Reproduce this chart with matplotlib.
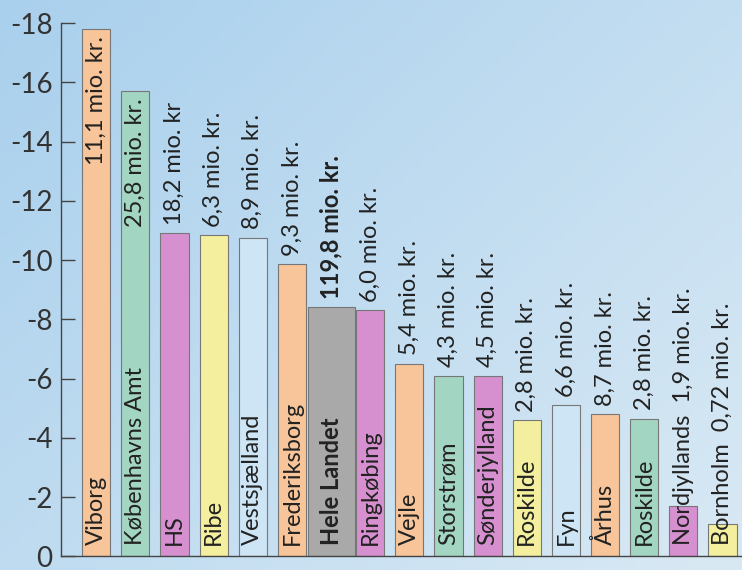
import numpy as np
from matplotlib import pyplot as plt

names = ['Viborg', 'Københavns Amt', 'HS', 'Ribe', 'Vestsjælland', 'Frederiksborg',
         'Hele Landet', 'Ringkøbing', 'Vejle', 'Storstrøm', 'Sønderjylland',
         'Roskilde', 'Fyn', 'Århus', 'Roskilde', 'Nordjyllands', 'Bornholm']
values = [-17.8, -15.7, -10.9, -10.85, -10.75, -9.85, -8.4, -8.3, -6.5,
          -6.1, -6.1, -4.6, -5.1, -4.8, -4.65, -1.7, -1.1]
amounts = ['11,1 mio. kr.', '25,8 mio. kr.', '18,2 mio. kr', '6,3 mio. kr.',
           '8,9 mio. kr.', '9,3 mio. kr.', '119,8 mio. kr.', '6,0 mio. kr.',
           '5,4 mio. kr.', '4,3 mio. kr.', '4,5 mio. kr.', '2,8 mio. kr.',
           '6,6 mio. kr.', '8,7 mio. kr.', '2,8 mio. kr.', '1,9 mio. kr.',
           '0,72 mio. kr.']
yticks = [0, -2, -4, -6, -8, -10, -12, -14, -16, -18]

ORANGE = '#f7c599'
GREEN = '#a3d5c3'
PINK = '#d690d0'
YELLOW = '#f3ef9e'
LBLUE = '#cde5f5'
GRAY = '#a9a9a9'
colors = [ORANGE, GREEN, PINK, YELLOW, LBLUE, ORANGE, GRAY, PINK, ORANGE,
          GREEN, PINK, YELLOW, LBLUE, ORANGE, GREEN, PINK, YELLOW]
# where the amount goes: inside top of bar, above the bar, or after the name
placement = ['inside', 'inside'] + ['above'] * 13 + ['inline', 'inline']

plt.rcParams['font.family'] = ['Lato', 'DejaVu Sans']
plt.rcParams['axes.unicode_minus'] = False

fig = plt.figure(figsize=(7.42, 5.70), dpi=100)

# blue paper background
bg = fig.add_axes([0, 0, 1, 1], zorder=-1)
gx, gy = np.meshgrid(np.linspace(0, 1, 200), np.linspace(0, 1, 200))
grad = 0.55 * gx + 0.45 * gy
bg.imshow(grad, cmap=plt.matplotlib.colors.LinearSegmentedColormap.from_list(
    'paper', ['#a9d0ed', '#d9e9f4']), aspect='auto', extent=[0, 1, 0, 1])
bg.axis('off')

ax = fig.add_axes([0.0822, 0.024, 0.9178, 0.9356])
ax.patch.set_alpha(0)

x = np.arange(len(names))
widths = [1.2 if n == 'Hele Landet' else 0.72 for n in names]
ax.bar(x, values, width=widths, color=colors, edgecolor='#777777', linewidth=0.8)

fs = 17
for i, (n, v, a, p) in enumerate(zip(names, values, amounts, placement)):
    weight = 'bold' if n == 'Hele Landet' else 'normal'
    if p == 'inline':
        ax.annotate(n + '  ' + a, (i, 0), xytext=(0, 8), textcoords='offset points',
                    rotation=90, ha='center', va='bottom', fontsize=fs, color='#222222')
        continue
    ax.annotate(n, (i, 0), xytext=(0, 8), textcoords='offset points',
                rotation=90, ha='center', va='bottom', fontsize=fs,
                color='#222222', fontweight=weight)
    if p == 'inside':
        ax.annotate(a, (i, v), xytext=(0, -5), textcoords='offset points',
                    rotation=90, ha='center', va='top', fontsize=fs, color='#222222')
    else:
        ax.annotate(a, (i, v), xytext=(0, 6), textcoords='offset points',
                    rotation=90, ha='center', va='bottom', fontsize=fs,
                    color='#222222', fontweight=weight)

ax.set_xlim(-0.9, 16.5)
ax.set_ylim(0, -18)
ax.set_yticks(yticks)
ax.set_yticklabels([str(t) for t in yticks])
ax.set_xticks([])
ax.tick_params(axis='y', direction='in', length=10, width=1, color='#444444',
               labelsize=20, labelcolor='#333333', pad=6)
for s in ['top', 'right']:
    ax.spines[s].set_visible(False)
for s in ['left', 'bottom']:
    ax.spines[s].set_color('#444444')
    ax.spines[s].set_linewidth(1)

fig.savefig('out.png', dpi=100)
